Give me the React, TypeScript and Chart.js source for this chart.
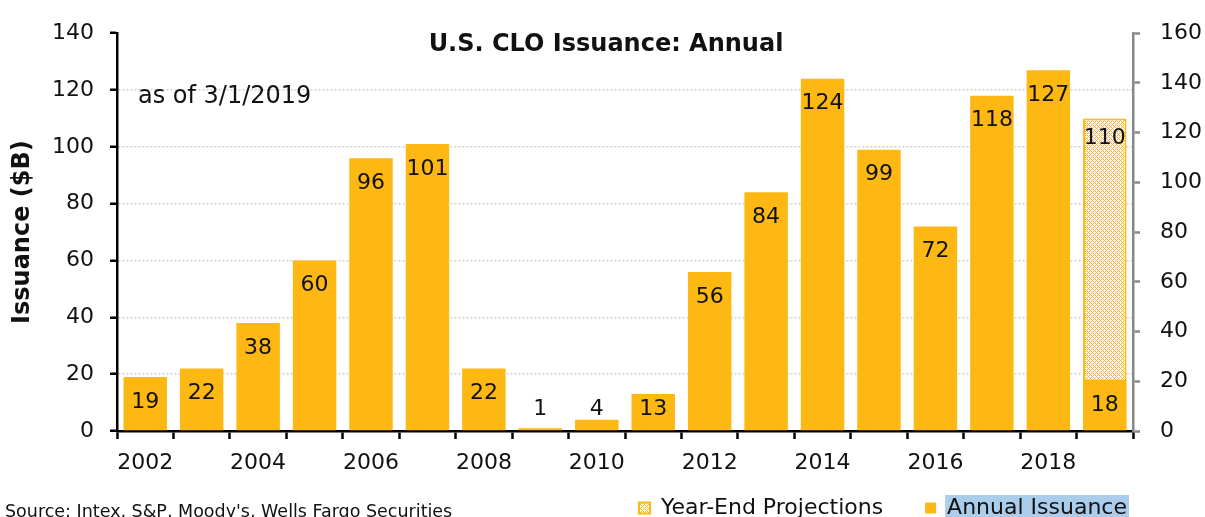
import React, { useEffect, useRef } from "react";
import { Chart, registerables } from "chart.js";

Chart.register(...registerables);

const years = ["2002","2003","2004","2005","2006","2007","2008","2009","2010","2011","2012","2013","2014","2015","2016","2017","2018","2019"];
const annualIssuance = [19, 22, 38, 60, 96, 101, 22, 1, 4, 13, 56, 84, 124, 99, 72, 118, 127, 18];
const yearEndProjections = [null, null, null, null, null, null, null, null, null, null, null, null, null, null, null, null, null, 110];
const leftTicks = { min: 0, max: 140, step: 20 };
const rightTicks = { min: 0, max: 160, step: 20 };

const ORANGE = "#FDB813";
const FONT = "'DejaVu Sans', Verdana, sans-serif";
const LEGEND_FS = 22;
const LEGEND_PAD = 42;
const LEGEND_SHIFT = 36;

function makePattern(): CanvasPattern | string {
  const c = document.createElement("canvas");
  c.width = 4;
  c.height = 4;
  const g = c.getContext("2d");
  if (!g) return ORANGE;
  g.fillStyle = "#ffffff";
  g.fillRect(0, 0, 4, 4);
  g.fillStyle = ORANGE;
  const pts = [[0, 0], [1, 1], [2, 2], [3, 3], [1, 3], [3, 1]];
  pts.forEach(([x, y]) => g.fillRect(x, y, 1, 1));
  const p = g.createPattern(c, "repeat");
  return p || ORANGE;
}

const decorPlugin = {
  id: "decor",
  afterUpdate(chart: any) {
    const legend = chart.legend;
    if (!legend) return;
    const oldTop = legend.top;
    const newTop = 508 - LEGEND_FS / 2 - LEGEND_PAD;
    legend.right = legend.right - LEGEND_SHIFT;
    legend.top = newTop;
    legend.bottom = chart.height;
    (legend.legendHitBoxes || []).forEach((hb: any) => {
      hb.left -= LEGEND_SHIFT;
      hb.top += newTop - oldTop;
    });
  },
  beforeDraw(chart: any) {
    const ctx = chart.ctx;
    ctx.save();
    ctx.fillStyle = "#ffffff";
    ctx.fillRect(0, 0, chart.width, chart.height);
    const legend = chart.legend;
    if (legend && legend.legendItems && legend.legendHitBoxes) {
      const idx = legend.legendItems.findIndex((it: any) => it.text === "Annual Issuance");
      const hb = legend.legendHitBoxes[idx];
      if (hb) {
        const x0 = hb.left + 10 + LEGEND_FS / 2 - 1;
        const y0 = legend.top + LEGEND_PAD - 2;
        ctx.fillStyle = "#A9CDEB";
        ctx.fillRect(x0, y0, hb.left + hb.width - x0 + 2, chart.height - y0);
      }
    }
    ctx.restore();
  },
  afterDatasetsDraw(chart: any) {
    const ctx = chart.ctx;
    const yScale = chart.scales.y;
    const zeroY = yScale.getPixelForValue(0);
    ctx.save();
    ctx.fillStyle = "#111111";
    ctx.font = `22px ${FONT}`;
    ctx.textAlign = "center";
    ctx.textBaseline = "middle";
    chart.data.datasets.forEach((ds: any, di: number) => {
      const meta = chart.getDatasetMeta(di);
      meta.data.forEach((el: any, i: number) => {
        const v = ds.data[i];
        if (v === null || v === undefined) return;
        let y;
        if (ds.label === "Year-End Projections") {
          y = el.y + 20;
        } else {
          y = Math.min(el.y + 25, zeroY - 22);
        }
        ctx.fillText(String(v), el.x, y);
      });
    });
    ctx.restore();
  },
  afterDraw(chart: any) {
    const ctx = chart.ctx;
    ctx.save();
    ctx.fillStyle = "#111111";
    ctx.textBaseline = "middle";
    ctx.textAlign = "center";
    ctx.font = `bold 24px ${FONT}`;
    ctx.fillText("U.S. CLO Issuance: Annual", 606, 45);
    ctx.textAlign = "left";
    ctx.font = `24px ${FONT}`;
    ctx.fillText("as of 3/1/2019", 138, 97);
    ctx.font = `17.5px ${FONT}`;
    ctx.fillText("Source: Intex, S&P, Moody's, Wells Fargo Securities", 5, 512);
    ctx.restore();
  },
};

export default function App() {
  const ref = useRef<HTMLCanvasElement | null>(null);
  useEffect(() => {
    if (!ref.current) return;
    const pattern = makePattern();
    const chart = new Chart(ref.current, {
      type: "bar",
      data: {
        labels: years,
        datasets: [
          {
            label: "Year-End Projections",
            data: yearEndProjections as any,
            backgroundColor: pattern as any,
            borderColor: ORANGE,
            borderWidth: 2,
            borderSkipped: false,
            grouped: false,
            order: 1,
            yAxisID: "y",
            categoryPercentage: 1,
            barPercentage: 0.77,
          },
          {
            label: "Annual Issuance",
            data: annualIssuance,
            backgroundColor: ORANGE,
            borderWidth: 0,
            grouped: false,
            order: 0,
            yAxisID: "y",
            categoryPercentage: 1,
            barPercentage: 0.77,
          },
        ],
      },
      options: {
        responsive: false,
        animation: false,
        layout: { padding: { top: 28, left: 0, right: 0, bottom: 0 } },
        plugins: {
          tooltip: { enabled: false },
          legend: {
            position: "bottom",
            align: "end",
            reverse: true,
            maxHeight: 36,
            labels: {
              boxWidth: 11,
              boxHeight: 11,
              padding: LEGEND_PAD,
              color: "#111111",
              font: { family: FONT, size: LEGEND_FS },
            },
          },
        },
        scales: {
          x: {
            type: "category",
            afterFit: (s: any) => { s.height = 50; },
            grid: {
              display: true,
              offset: true,
              drawOnChartArea: false,
              drawTicks: true,
              tickLength: 8,
              tickColor: "#000000",
              tickWidth: 2.5,
              color: "#000000",
            },
            border: { display: true, color: "#000000", width: 2.5 },
            ticks: {
              autoSkip: false,
              maxRotation: 0,
              minRotation: 0,
              padding: 11,
              color: "#111111",
              font: { family: FONT, size: 22 },
              callback: (_v: any, i: number) => (i % 2 === 0 ? years[i] : ""),
            },
          },
          y: {
            position: "left",
            min: leftTicks.min,
            max: leftTicks.max,
            afterFit: (s: any) => { s.width = 117; },
            ticks: {
              stepSize: leftTicks.step,
              padding: 16,
              color: "#111111",
              font: { family: FONT, size: 22 },
            },
            grid: {
              color: (c: any) => (c.tick && c.tick.value >= leftTicks.max ? "rgba(0,0,0,0)" : "#d0d0d0"),
              lineWidth: 1.5,
              tickColor: "#000000",
              tickWidth: 2.5,
              tickLength: 7,
            },
            border: { display: true, color: "#000000", width: 2.5, dash: [2, 2] },
            title: {
              display: true,
              text: "Issuance ($B)",
              color: "#111111",
              font: { family: FONT, size: 24, weight: "bold" },
              padding: { top: 8, bottom: 0 },
            },
          },
          y2: {
            position: "right",
            min: rightTicks.min,
            max: rightTicks.max,
            afterFit: (s: any) => { s.width = 72; },
            ticks: {
              stepSize: rightTicks.step,
              padding: 20,
              color: "#111111",
              font: { family: FONT, size: 22 },
            },
            grid: {
              drawOnChartArea: false,
              color: "#888888",
              tickColor: "#888888",
              tickWidth: 2.5,
              tickLength: 7,
            },
            border: { display: true, color: "#888888", width: 2.5 },
          },
        },
      },
      plugins: [decorPlugin],
    } as any);
    return () => chart.destroy();
  }, []);
  return (
    <div style={{ position: "fixed", left: 0, top: 0, width: 1205, height: 517, background: "#fff" }}>
      <canvas ref={ref} width={1205} height={517} style={{ display: "block" }} />
    </div>
  );
}
